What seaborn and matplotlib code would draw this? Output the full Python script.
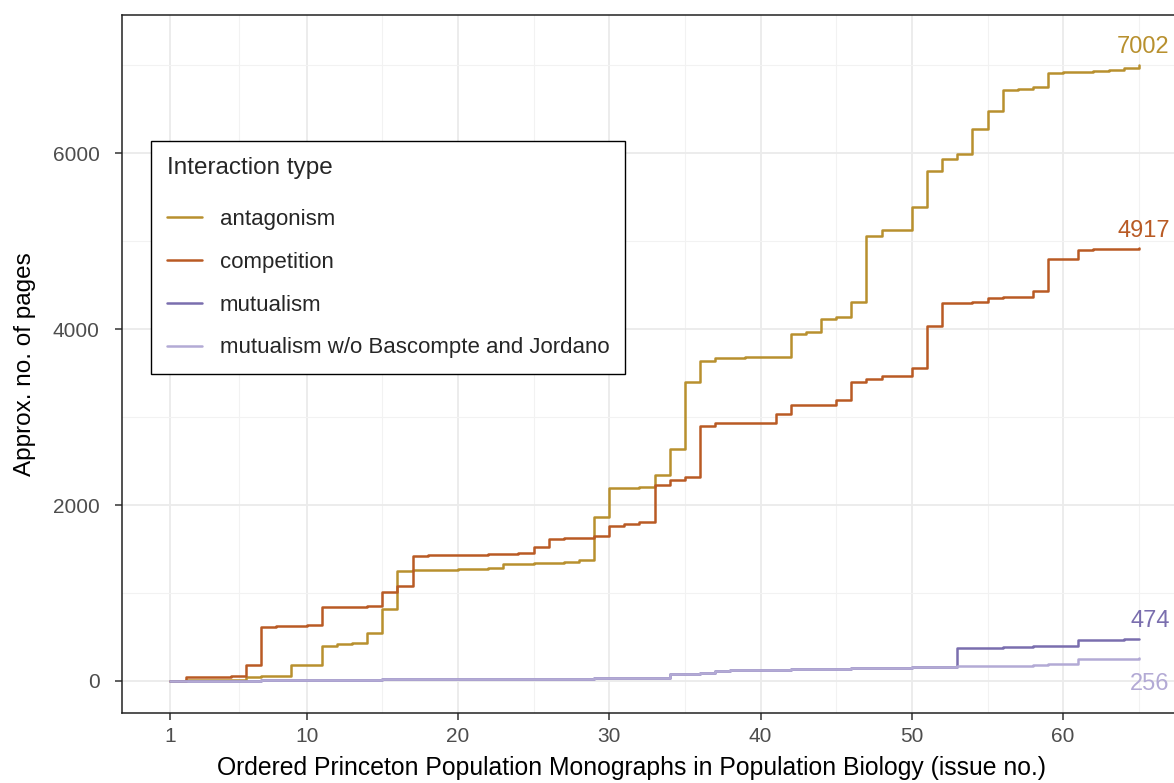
import numpy as np
import pandas as pd
import matplotlib
matplotlib.use('Agg')
import matplotlib.pyplot as plt
import seaborn as sns

# cumulative page counts per issue
issues = list(range(1, 66))

antagonism = [5, 8, 10, 12, 15, 45, 52, 61, 182, 186,
              400, 415, 432, 550, 820, 1254, 1258, 1262, 1265, 1270,
              1275, 1280, 1330, 1335, 1338, 1342, 1356, 1375, 1864, 2189,
              2198, 2208, 2341, 2640, 3394, 3640, 3674, 3676, 3678, 3680,
              3682, 3943, 3966, 4117, 4133, 4307, 5061, 5125, 5128, 5390,
              5795, 5935, 5985, 6269, 6477, 6723, 6728, 6754, 6913, 6918,
              6925, 6935, 6940, 6973, 7002]

competition = [0, 40, 45, 50, 60, 182, 615, 620, 625, 632,
               838, 842, 846, 850, 1011, 1076, 1426, 1428, 1430, 1432,
               1435, 1438, 1443, 1450, 1523, 1614, 1625, 1630, 1648, 1765,
               1780, 1803, 2227, 2280, 2322, 2902, 2928, 2928, 2930, 2932,
               3030, 3133, 3138, 3142, 3193, 3394, 3428, 3466, 3470, 3553,
               4034, 4299, 4302, 4306, 4356, 4360, 4365, 4436, 4792, 4795,
               4898, 4905, 4910, 4914, 4917]

mutualism_wo = [3, 3, 4, 4, 5, 5, 6, 6, 7, 7,
                8, 8, 9, 9, 19, 20, 20, 21, 21, 22,
                22, 23, 26, 26, 27, 27, 28, 28, 29, 30,
                31, 32, 33, 80, 82, 85, 117, 120, 122, 125,
                128, 133, 135, 138, 140, 144, 146, 151, 153, 156,
                160, 163, 165, 166, 168, 170, 172, 186, 188, 190,
                250, 252, 253, 255, 256]

mutualism = mutualism_wo[:52] + [375, 377, 380, 383, 385, 398, 400, 402,
                                 466, 468, 470, 472, 474]

types = ['antagonism', 'competition', 'mutualism',
         'mutualism w/o Bascompte and Jordano']
colours = ['#B8902E', '#B95A24', '#7A6EAE', '#B3AAD5']
end_label_y = [7210, 5120, 685, -30]

df = pd.DataFrame({
    'issue': issues * 4,
    'pages': antagonism + competition + mutualism + mutualism_wo,
    'type': [t for t in types for _ in issues],
})

sns.set_theme(style='whitegrid')
plt.rcParams['font.family'] = ['Liberation Sans', 'DejaVu Sans']

fig = plt.figure(figsize=(11.74, 7.83), dpi=100)
ax = fig.add_axes([122/1174, 1 - 713/783, 1 - 122/1174 + 0.01, (713 - 15)/783])

sns.lineplot(data=df, x='issue', y='pages', hue='type', hue_order=types,
             palette=colours, drawstyle='steps-post', linewidth=1.8, ax=ax)

# end-of-line totals
for t, c, yy in zip(types, colours, end_label_y):
    last = df[df.type == t].pages.iloc[-1]
    ax.text(67.05, yy, str(last), color=c, fontsize=17, ha='right', va='center')

ax.set_xlim(-2.2, 68.1)
ax.set_ylim(-364, 7570)
ax.set_xticks([1, 10, 20, 30, 40, 50, 60])
ax.set_xticks([5.5, 15, 25, 35, 45, 55, 65], minor=True)
ax.set_yticks([0, 2000, 4000, 6000])
ax.set_yticks([1000, 3000, 5000, 7000], minor=True)
ax.set_facecolor('white')
ax.grid(which='major', color='#EBEBEB', linewidth=1.3)
ax.grid(which='minor', color='#F2F2F2', linewidth=0.8)
ax.set_axisbelow(True)
ax.tick_params(axis='both', which='major', labelsize=15, colors='#333333',
               labelcolor='#4D4D4D', length=5, width=1.1, direction='out',
               bottom=True, left=True)
ax.tick_params(axis='y', pad=11)
ax.tick_params(axis='x', pad=5)
ax.tick_params(which='minor', length=0)
for side in ['left', 'bottom', 'top']:
    ax.spines[side].set_color('#222222')
    ax.spines[side].set_linewidth(1.1)
ax.spines['right'].set_visible(False)

ax.set_xlabel('Ordered Princeton Population Monographs in Population Biology (issue no.)',
              fontsize=17.8, color='black')
ax.xaxis.set_label_coords(0.479, -0.062)
ax.set_ylabel('Approx. no. of pages', fontsize=17.5, color='black', labelpad=12)

leg = ax.legend(title='Interaction type', loc='upper left',
                bbox_to_anchor=(151/1174, 1 - 141/783), bbox_transform=fig.transFigure,
                borderaxespad=0, fontsize=16, title_fontsize=17.5, frameon=True,
                fancybox=False, edgecolor='black', framealpha=1, handlelength=1.6,
                handletextpad=0.8, labelspacing=0.98, borderpad=0.7)
leg.get_frame().set_linewidth(1.0)
leg._legend_box.align = 'left'
leg._legend_box.sep = 22

fig.savefig('out.png', dpi=100)
